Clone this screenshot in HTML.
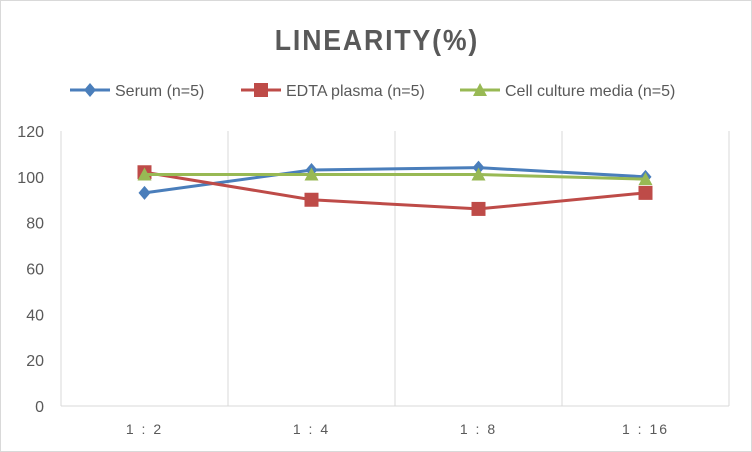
<!DOCTYPE html>
<html><head><style>
body{margin:0;background:#fff;}
svg{display:block;font-family:"Liberation Sans",sans-serif;}
</style></head><body>
<svg width="752" height="452">
<rect x="0.5" y="0.5" width="751" height="451" fill="#fff" stroke="#d9d9d9"/>
<text x="377" y="50" text-anchor="middle" font-size="29" font-weight="bold" fill="#595959" letter-spacing="2" transform="translate(377,0) scale(0.92,1) translate(-377,0)">LINEARITY(%)</text>
<g id="legend"></g>
<g id="grid"></g>
<g id="axes"></g>
<g id="series"></g>
</svg>
<script>
const categories=["1:2","1:4","1:8","1:16"];
const yTicks=[0,20,40,60,80,100,120];
const serum=[93,103,104,100];
const edta=[102,90,86,93];
const cell=[101,101,101,99];
const seriesNames=["Serum (n=5)","EDTA plasma (n=5)","Cell culture media (n=5)"];
const colors=["#4a7ebb","#be4b48","#98b954"];
const NS="http://www.w3.org/2000/svg";
const pLeft=61,pRight=729,pTop=131,pBottom=406;
const bw=(pRight-pLeft)/categories.length;
function xs(i){return pLeft+bw*(i+0.5);}
function ys(v){return pBottom-(v-0)/(120-0)*(pBottom-pTop);}
function mk(t,a,p){const e=document.createElementNS(NS,t);for(const k in a)e.setAttribute(k,a[k]);p.appendChild(e);return e;}
const grid=document.getElementById('grid'),axes=document.getElementById('axes'),ser=document.getElementById('series'),leg=document.getElementById('legend');
for(let i=0;i<=categories.length;i++){
 const l=mk('line',{x1:pLeft+bw*i,x2:pLeft+bw*i,y1:pTop,y2:pBottom,stroke:'#d9d9d9'},grid);
 
 
}
const xa=mk('line',{x1:pLeft,x2:pRight,y1:pBottom,y2:pBottom,stroke:'#d9d9d9'},axes);


yTicks.forEach(v=>{
 const t=mk('text',{x:44,y:ys(v)+6,'text-anchor':'end','font-size':16,fill:'#595959'},axes);
 t.textContent=v;
 
 
});
categories.forEach((c,i)=>{
 const t=mk('text',{x:xs(i),y:434,'text-anchor':'middle','font-size':14,fill:'#595959','letter-spacing':'2'},axes);
 t.textContent=c.replace(':',' : ');
 
 
});
function marker(type,x,y,col,p){
 let m;
 if(type===0)m=mk('polygon',{points:`${x},${y-7} ${x+6},${y} ${x},${y+7} ${x-6},${y}`,fill:col},p);
 else if(type===1)m=mk('rect',{x:x-7,y:y-7,width:14,height:14,fill:col},p);
 else m=mk('polygon',{points:`${x},${y-7} ${x+7},${y+6} ${x-7},${y+6}`,fill:col},p);
 
 
}
[serum,edta,cell].forEach((d,s)=>{
 const pl=mk('polyline',{points:d.map((v,i)=>xs(i)+','+ys(v)).join(' '),fill:'none',stroke:colors[s],'stroke-width':3},ser);
 
 
 d.forEach((v,i)=>marker(s,xs(i),ys(v),colors[s],ser));
});
const lx=[70,241,460];
seriesNames.forEach((n,s)=>{
 const g=mk('g',{},leg);
 
 
 mk('line',{x1:lx[s],x2:lx[s]+40,y1:90,y2:90,stroke:colors[s],'stroke-width':3},g);
 marker(s,lx[s]+20,90,colors[s],g);
 const t=mk('text',{x:lx[s]+45,y:96,'font-size':16,fill:'#595959'},g);
 t.textContent=n;
});
</script>
</body></html>
